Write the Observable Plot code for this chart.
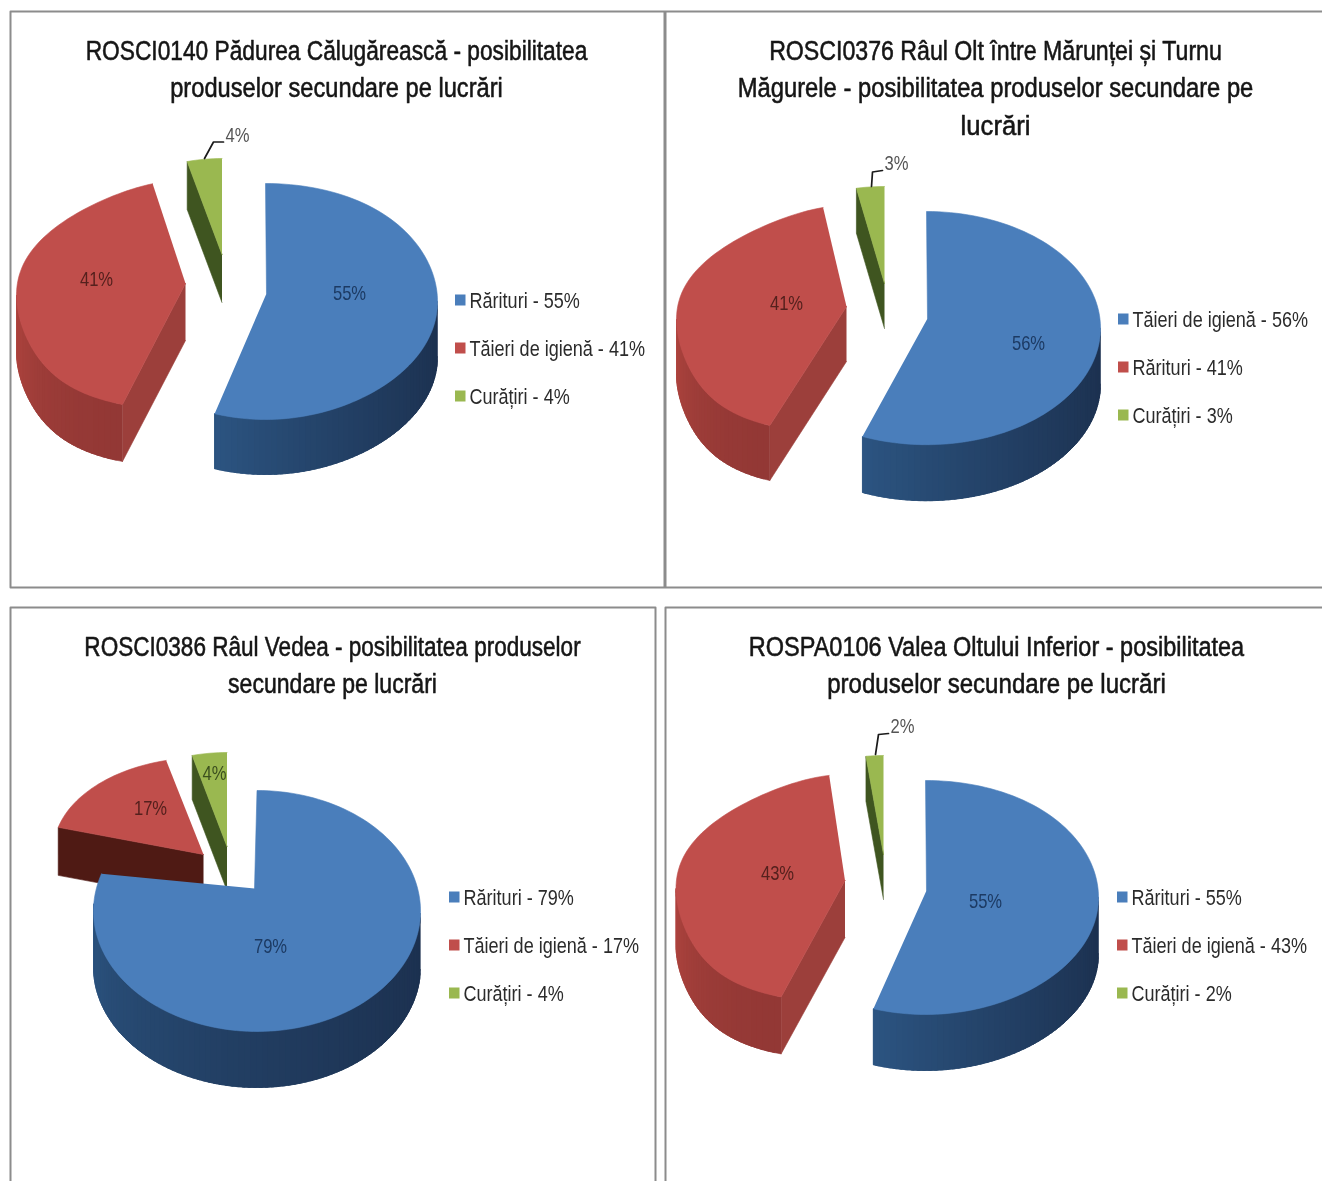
<!DOCTYPE html>
<html>
<head>
<meta charset="utf-8">
<script src="https://cdn.jsdelivr.net/npm/d3@7"></script>
<script src="https://cdn.jsdelivr.net/npm/@observablehq/plot@0.6"></script>
<style>
html,body{margin:0;padding:0;background:#fff;overflow:hidden}
svg{display:block;filter:blur(0.45px)}
</style>
</head>
<body>
<div id="chart"></div>
<script>
// ---- data ----
const chartTitles = [
  ["ROSCI0140 Pădurea Călugărească - posibilitatea", "produselor secundare pe lucrări"],
  ["ROSCI0376 Râul Olt între Mărunței și Turnu", "Măgurele - posibilitatea produselor secundare pe", "lucrări"],
  ["ROSCI0386 Râul Vedea - posibilitatea produselor", "secundare pe lucrări"],
  ["ROSPA0106 Valea Oltului Inferior - posibilitatea", "produselor secundare pe lucrări"]
];
const categories = [
  ["Rărituri", "Tăieri de igienă", "Curățiri"],
  ["Tăieri de igienă", "Rărituri", "Curățiri"],
  ["Rărituri", "Tăieri de igienă", "Curățiri"],
  ["Rărituri", "Tăieri de igienă", "Curățiri"]
];
const seriesValues = [
  [55, 41, 4],
  [56, 41, 3],
  [79, 17, 4],
  [55, 43, 2]
];

// ---- layout of each exploded slice: apex, radii, ellipse offset, thickness, perspective ----
const sliceShapes = [
  [{ax:266,ay:293,dx:-1,dy:8,rx:172,ry:118,d:55,k:-0.05},{ax:185,ay:283,dx:0,dy:11.6,rx:169,ry:115,d:57,k:0.24},{ax:221.5,ay:254,dx:0,dy:1,rx:140,ry:97,d:48}],
  [{ax:927,ay:318,dx:-1,dy:9.6,rx:174,ry:116.6,d:56},{ax:846,ay:306,dx:0,dy:13,rx:170,ry:114,d:55,k:0.28},{ax:884,ay:283,dx:0,dy:0,rx:150,ry:97,d:45}],
  [{ax:254,ay:888,dx:2.5,dy:22.5,rx:163.5,ry:120.5,d:56,warp:1.0127},{ax:203,ay:854,dx:0,dy:-4,rx:150,ry:93,d:48,wall:"#4f1a14"},{ax:226.5,ay:846,dx:0,dy:0,rx:140,ry:94,d:44}],
  [{ax:926,ay:890,dx:-1,dy:7,rx:173,ry:117,d:56,k:-0.03},{ax:844.5,ay:880,dx:0,dy:8,rx:169,ry:114,d:57,k:0.26},{ax:883,ay:854,dx:0,dy:0,rx:140,ry:99,d:45}]
];
const sliceStyles = [
  {top:"#4a7ebb", sideA:"#1c3150", sideB:"#2c5582", wall:"#1c3150"},
  {top:"#c04e4b", sideA:"#933835", sideB:"#b0453f", wall:"#9c3f3b"},
  {top:"#9ab850", sideA:"#5f7a2e", sideB:"#5f7a2e", wall:"#3f5520"}
];
const valueLabels = [
  [[349,293,"#1c3a63"],[96,279,"#54201d"],[237,135,"#555555"]],
  [[1028,343,"#1c3a63"],[786,303,"#54201d"],[896,163,"#555555"]],
  [[270,946,"#1c3a63"],[150,808,"#54201d"],[214,773,"#3b4f1e"]],
  [[985,901,"#1c3a63"],[777,873,"#54201d"],[902,726,"#555555"]]
];
const leaderLines = [
  [[204,158],[213,141.5],[223,141.5]],
  [[871,186],[872,171.5],[882,170]],
  null,
  [[875,754],[878,734],[888,733]]
];
const titleSpots = [[336,51],[995,51],[332,647],[996,647]];
const titleSqueeze = [[0.842,0.876],[0.857,0.881,0.95],[0.835,0.854],[0.87,0.892]];
const legendSpots = [[455,300],[1118,319],[449,897],[1117,897]];
const frameLines = [
  [[10,587],[10,11],[664,11],[664,587],[10,587]],
  [[1322,11],[665,11],[665,587],[1322,587]],
  [[10,1181],[10,607],[655,607],[655,1181]],
  [[665,1181],[665,607],[1322,607]]
];

// ---- build the polygons from the values ----
const rad = a => a * Math.PI / 180;
const polygons = [];
let polyId = 0;
function addPolygon(points, color) {
  const id = polyId++;
  for (const [x, y] of points) polygons.push({id, x, y, color});
}
function buildSlice(shape, style, a0, a1) {
  const warp = shape.warp ?? 1, k = shape.k ?? 0;
  const rim = a => {
    const w = rad(a * warp);
    return [
      shape.ax + shape.dx + shape.rx * Math.sin(w) * (1 - k * Math.cos(w) ** 3),
      shape.ay + shape.dy - shape.ry * Math.cos(w)
    ];
  };
  const down = ([x, y]) => [x, y + shape.d];
  const apex = [shape.ax, shape.ay];
  const wall = a => [apex, rim(a), down(rim(a)), down(apex)];
  const wallColor = shape.wall ?? style.wall;
  if (Math.sin(rad(a0)) < -1e-6) addPolygon(wall(a0), wallColor);
  if (Math.sin(rad(a1)) > 1e-6) addPolygon(wall(a1), wallColor);
  const lo = Math.max(a0, 90), hi = Math.min(a1, 270);
  const ramp = d3.interpolateRgb(style.sideA, style.sideB);
  for (let a = lo; a < hi; a += 2) {
    const b = Math.min(a + 5, hi); // strips overlap, so no seams show
    const t = (a - lo) / Math.max(hi - lo, 1);
    const pts = d3.range(a, b, 1).concat(b).map(rim);
    addPolygon([...pts, ...pts.map(down).reverse()], ramp(t ** 1.5));
  }
  const arc = [apex];
  const steps = Math.ceil((a1 - a0) / 2);
  for (let i = 0; i <= steps; i++) arc.push(rim(a0 + (a1 - a0) * i / steps));
  addPolygon(arc, style.top);
}
seriesValues.forEach((values, p) => {
  const total = d3.sum(values);
  const starts = d3.cumsum([0, ...values]).map(v => v / total * 360);
  // drawn back to front: red, green, then the largest slice
  for (const i of [1, 2, 0]) buildSlice(sliceShapes[p][i], sliceStyles[i], starts[i], starts[i + 1]);
});

const titleRows = chartTitles.flatMap((lines, p) =>
  lines.map((text, i) => ({text, x: titleSpots[p][0], y: titleSpots[p][1] + i * 37.3, squeeze: titleSqueeze[p][i]})));
const legendRows = categories.flatMap((names, p) =>
  names.map((name, i) => ({
    text: `${name} - ${seriesValues[p][i]}%`,
    x: legendSpots[p][0], y: legendSpots[p][1] + i * 48, color: sliceStyles[i].top
  })));
const valueRows = seriesValues.flatMap((values, p) =>
  values.map((v, i) => ({text: `${v}%`, x: valueLabels[p][i][0], y: valueLabels[p][i][1], color: valueLabels[p][i][2]})));
const leaderRows = leaderLines.flatMap((pts, id) => pts ? pts.map(([x, y]) => ({id, x, y})) : []);
const frameRows = frameLines.flatMap((pts, id) => pts.map(([x, y]) => ({id, x, y})));

const font = "'Liberation Sans',Arial,sans-serif";
const chart = Plot.plot({
  width: 1322,
  height: 1181,
  margin: 0,
  style: {background: "#fff"},
  x: {domain: [0, 1322], range: [0, 1322], axis: null},
  y: {domain: [0, 1181], range: [0, 1181], axis: null},
  color: {type: "identity"},
  marks: [
    Plot.line(frameRows, {x: "x", y: "y", z: "id", stroke: "#8c8c8c", strokeWidth: 2, curve: "linear"}),
    Plot.line(polygons, {x: "x", y: "y", z: "id", fill: "color", stroke: "color", strokeWidth: 0.6, curve: "linear"}),
    Plot.line(leaderRows, {x: "x", y: "y", z: "id", stroke: "#1a1a1a", strokeWidth: 1.7, curve: "linear"}),
    Plot.rect(legendRows, {x1: "x", x2: d => d.x + 10.5, y1: d => d.y - 5.5, y2: d => d.y + 5.5, fill: "color"}),
    Plot.text(titleRows, {x: "x", y: "y", text: "text", fontFamily: font, fontSize: 27, fill: "#151515", stroke: "#151515", strokeWidth: 0.55, textAnchor: "middle", className: "squeeze-title"}),
    Plot.text(legendRows, {x: d => d.x + 14, y: "y", text: "text", fontFamily: font, fontSize: 22, fill: "#2b2b2b", textAnchor: "start", className: "squeeze-legend"}),
    Plot.text(valueRows, {x: "x", y: "y", text: "text", fontFamily: font, fontSize: 21, fill: "color", textAnchor: "middle", className: "squeeze-value"})
  ]
});
document.getElementById("chart").append(chart);

// The reference uses a condensed face; no narrow font is installed, so the glyphs are squeezed.
function squeezeTexts(cls, factorOf) {
  chart.querySelectorAll(`.${cls} text`).forEach((t, i) => {
    t.setAttribute("textLength", (t.getComputedTextLength() * factorOf(i)).toFixed(1));
    t.setAttribute("lengthAdjust", "spacingAndGlyphs");
  });
}
squeezeTexts("squeeze-title", i => titleRows[i].squeeze);
squeezeTexts("squeeze-legend", () => 0.82);
squeezeTexts("squeeze-value", () => 0.79);
</script>
</body>
</html>
